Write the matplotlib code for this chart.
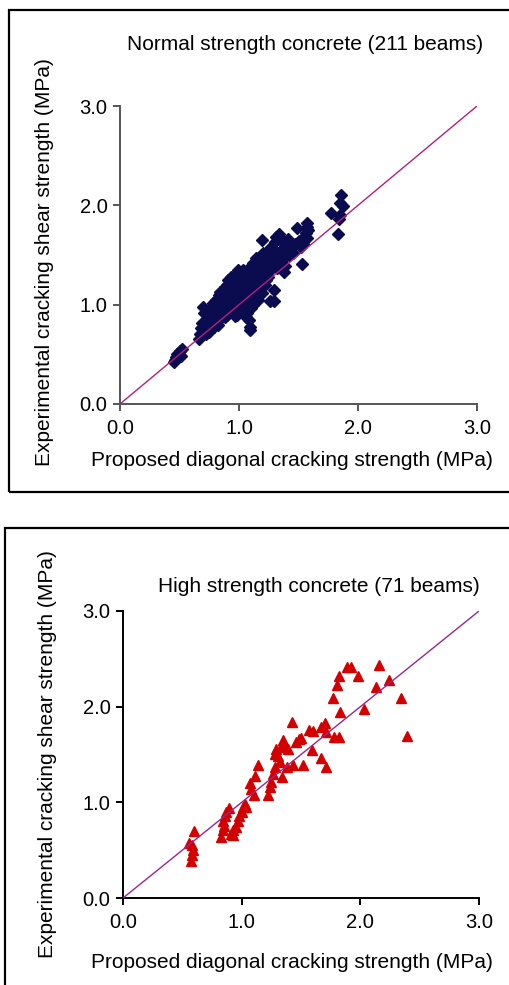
import matplotlib.pyplot as plt
from matplotlib.patches import Rectangle

plt.rcParams['font.family'] = ['Liberation Sans', 'DejaVu Sans']

W, H = 509, 985

# Normal strength concrete (211 beams): proposed vs experimental, MPa
nsc_x = [0.45, 0.47, 0.48, 0.50, 0.51, 0.52, 0.46,
         0.66, 0.67, 0.68, 0.70, 0.70, 0.71, 0.72, 0.72, 0.73, 0.74, 0.74, 0.75, 0.69, 0.75,
         0.76, 0.77, 0.78, 0.78, 0.79, 0.80, 0.80, 0.81, 0.82, 0.82, 0.83, 0.83, 0.84, 0.84,
         0.85, 0.85, 0.79, 0.81, 0.77, 0.84,
         0.86, 0.86, 0.87, 0.87, 0.88, 0.88, 0.89, 0.89, 0.90, 0.90, 0.91, 0.91, 0.91, 0.92,
         0.92, 0.93, 0.93, 0.94, 0.94, 0.95, 0.95, 0.88, 0.90, 0.93, 0.95,
         0.96, 0.96, 0.97, 0.97, 0.98, 0.98, 0.99, 0.99, 1.00, 1.00, 1.00, 1.01, 1.01, 1.02,
         1.02, 1.03, 1.03, 1.03, 1.04, 1.04, 1.05, 1.05, 0.97, 0.99, 1.01, 1.02, 1.04, 1.05,
         0.96, 1.00,
         1.06, 1.06, 1.07, 1.07, 1.08, 1.08, 1.08, 1.09, 1.09, 1.09, 1.10, 1.10, 1.10, 1.11,
         1.11, 1.12, 1.12, 1.13, 1.13, 1.14, 1.14, 1.14, 1.15, 1.15, 1.06, 1.07, 1.09, 1.12,
         1.13, 1.15,
         1.16, 1.16, 1.17, 1.17, 1.18, 1.18, 1.19, 1.19, 1.20, 1.20, 1.21, 1.21, 1.22, 1.22,
         1.23, 1.23, 1.24, 1.24, 1.25, 1.25, 1.17, 1.20, 1.23, 1.16, 1.25,
         1.26, 1.26, 1.27, 1.27, 1.28, 1.29, 1.29, 1.29, 1.30, 1.30, 1.31, 1.32, 1.32, 1.33,
         1.34, 1.34, 1.35, 1.35, 1.28, 1.31,
         1.37, 1.37, 1.38, 1.39, 1.40, 1.41, 1.42, 1.43, 1.44, 1.45, 1.39, 1.36,
         1.47, 1.49, 1.50, 1.52, 1.53, 1.54, 1.56, 1.57, 1.57, 1.57, 1.58, 1.55,
         1.77, 1.83, 1.85, 1.85, 1.86, 1.87, 1.84,
         0.98, 1.02, 1.06, 1.11, 1.18, 0.92, 0.86, 1.27, 1.04]
nsc_y = [0.42, 0.47, 0.50, 0.53, 0.48, 0.55, 0.44,
         0.65, 0.70, 0.77, 0.73, 0.98, 0.92, 0.85, 0.70, 0.80, 0.76, 0.95, 0.88, 0.82, 0.72,
         0.75, 0.82, 0.90, 1.02, 0.78, 0.85, 0.95, 1.05, 0.80, 0.92, 1.00, 1.10, 0.86, 0.97,
         1.04, 0.90, 0.99, 0.88, 0.93, 1.13,
         0.92, 1.08, 0.98, 1.15, 0.88, 1.03, 1.12, 0.95, 1.00, 1.20, 1.25, 0.93, 1.07, 1.14,
         0.98, 1.03, 1.18, 1.10, 0.95, 1.22, 1.05, 1.18, 0.90, 1.28, 1.13,
         0.98, 1.10, 1.18, 1.30, 0.90, 1.05, 1.15, 1.24, 1.00, 1.33, 1.10, 1.20, 0.95, 1.07,
         1.28, 1.15, 0.93, 1.35, 1.02, 1.22, 1.10, 1.30, 0.89, 1.35, 1.12, 0.98, 1.14, 0.97,
         1.22, 1.27,
         1.05, 1.20, 1.33, 0.92, 0.85, 1.12, 1.27, 0.78, 1.00, 1.38, 1.15, 1.25, 0.97, 1.08,
         1.33, 1.20, 1.42, 1.12, 1.28, 1.04, 1.47, 1.36, 1.22, 1.43, 0.88, 1.18, 0.74, 1.00,
         1.38, 1.30,
         1.05, 1.32, 1.40, 1.18, 1.25, 1.48, 1.65, 1.12, 1.35, 1.52, 1.28, 1.42, 1.20, 1.46,
         1.33, 1.38, 1.28, 1.50, 1.55, 1.40, 1.30, 1.22, 1.25, 1.45, 1.34,
         1.04, 1.43, 1.36, 1.58, 1.46, 1.15, 1.52, 1.04, 1.40, 1.63, 1.48, 1.37, 1.44, 1.52,
         1.71, 1.41, 1.65, 1.47, 1.55, 1.68,
         1.64, 1.46, 1.33, 1.59, 1.54, 1.66, 1.50, 1.58, 1.61, 1.52, 1.39, 1.55,
         1.61, 1.77, 1.64, 1.58, 1.41, 1.61, 1.72, 1.78, 1.82, 1.67, 1.75, 1.68,
         1.92, 1.71, 1.90, 2.02, 2.10, 1.99, 1.86,
         1.13, 1.18, 1.28, 1.16, 1.36, 1.06, 1.00, 1.48, 1.26]

# High strength concrete (71 beams)
hsc_x = [0.60, 0.58, 0.59, 0.58, 0.57, 0.56,
         0.83, 0.84, 0.84, 0.86, 0.87, 0.89, 0.91, 0.93, 0.95, 0.97, 0.98, 1.00, 1.01, 1.03,
         1.04, 0.93, 0.85,
         1.07, 1.08, 1.10, 1.11, 1.14,
         1.22, 1.24, 1.25, 1.26, 1.28, 1.28, 1.29, 1.31, 1.32, 1.34, 1.33, 1.35, 1.36, 1.39,
         1.38, 1.42, 1.43, 1.46, 1.48, 1.50, 1.52,
         1.57, 1.60, 1.59, 1.67, 1.70, 1.71, 1.67, 1.71, 1.78, 1.82,
         1.77, 1.80, 1.82, 1.83, 1.89, 1.92, 1.98, 2.03, 2.13, 2.16, 2.24, 2.34, 2.39]
hsc_y = [0.70, 0.55, 0.50, 0.45, 0.39, 0.58,
         0.64, 0.71, 0.80, 0.86, 0.90, 0.94, 0.67, 0.71, 0.74, 0.81, 0.86, 0.90, 0.95, 0.98,
         0.95, 0.66, 0.75,
         1.20, 1.14, 1.08, 1.28, 1.39,
         1.08, 1.16, 1.21, 1.30, 1.37, 1.51, 1.56, 1.48, 1.42, 1.27, 1.58, 1.65, 1.60, 1.56,
         1.37, 1.84, 1.39, 1.63, 1.66, 1.67, 1.39,
         1.76, 1.75, 1.55, 1.79, 1.83, 1.74, 1.46, 1.37, 1.68, 1.68,
         2.09, 2.23, 2.32, 1.94, 2.41, 2.41, 2.32, 1.98, 2.21, 2.44, 2.28, 2.09, 1.69]

ticks = [0.0, 1.0, 2.0, 3.0]
tick_labels = ['0.0', '1.0', '2.0', '3.0']

panels = [
    dict(title='Normal strength concrete (211 beams)', x=nsc_x, y=nsc_y,
         marker='D', ms=6.0, color='#0b0b4f', line='#b3207c', spine='#555555',
         ax_px=(120, 106, 477, 404), title_xy=(305, 44), ylab_xy=(45, 262), xlab_xy=(292, 460)),
    dict(title='High strength concrete (71 beams)', x=hsc_x, y=hsc_y,
         marker='^', ms=7.0, color='#d40000', line='#9a2590', spine='#000000',
         ax_px=(123, 611, 479, 898), title_xy=(319, 587), ylab_xy=(48, 754), xlab_xy=(292, 963)),
]

fig = plt.figure(figsize=(W / 100, H / 100), dpi=100)
fig.patch.set_facecolor('white')

# the two framed boxes, cropped on the right (and bottom for the lower one)
fig.patches.append(Rectangle((9 / W, 1 - 492 / H), 1.2, (492 - 10) / H,
                             transform=fig.transFigure, fill=False, lw=1.6, ec='black'))
fig.patches.append(Rectangle((5 / W, -0.1), 1.2, 0.1 + (985 - 528) / H,
                             transform=fig.transFigure, fill=False, lw=1.6, ec='black'))

for p in panels:
    x0, y0, x1, y1 = p['ax_px']
    ax = fig.add_axes([x0 / W, 1 - y1 / H, (x1 - x0) / W, (y1 - y0) / H])
    ax.plot([0, 3], [0, 3], color=p['line'], lw=1.0, zorder=3)
    ax.plot(p['x'], p['y'], linestyle='none', marker=p['marker'], ms=p['ms'],
            color=p['color'], mec=p['color'], zorder=2)
    ax.set_xlim(0, 3)
    ax.set_ylim(0, 3)
    ax.set_xticks(ticks)
    ax.set_xticklabels(tick_labels)
    ax.set_yticks(ticks)
    ax.set_yticklabels(tick_labels)
    for s in ['top', 'right']:
        ax.spines[s].set_visible(False)
    for s in ['left', 'bottom']:
        ax.spines[s].set_color(p['spine'])
        ax.spines[s].set_linewidth(1.4)
    ax.tick_params(direction='out', length=5, width=1.4, color=p['spine'],
                   labelsize=14.5, pad=4)
    ax.tick_params(axis='x', pad=6)

    tx, ty = p['title_xy']
    fig.text(tx / W, 1 - ty / H, p['title'], ha='center', va='center', fontsize=15)
    lx, ly = p['ylab_xy']
    fig.text(lx / W, 1 - ly / H, 'Experimental cracking shear strength (MPa)',
             ha='center', va='center', rotation=90, fontsize=15)
    bx, by = p['xlab_xy']
    fig.text(bx / W, 1 - by / H, 'Proposed diagonal cracking strength (MPa)',
             ha='center', va='center', fontsize=15)

fig.savefig('out.png', dpi=100)
